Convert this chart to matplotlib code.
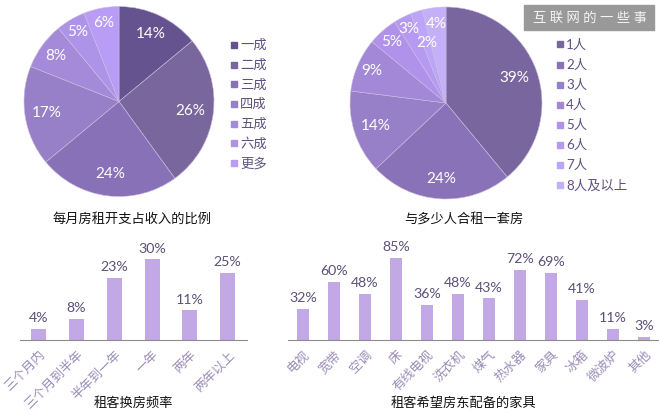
#!/usr/bin/env python3
import numpy as np
import matplotlib
matplotlib.use('Agg')
import matplotlib.pyplot as plt

plt.rcParams['font.family'] = ['Lato', 'Noto Sans CJK SC', 'DejaVu Sans']

W, H = 659, 415

INCOME_LABELS = ['一成', '二成', '三成', '四成', '五成', '六成', '更多']
INCOME_VALUES = [14, 26, 24, 17, 8, 5, 6]
INCOME_COLORS = ['#655390', '#78669c', '#8871b6', '#9880c8', '#a48ad8', '#ae94e8', '#b89cf5']
INCOME_LABEL_R = [0.79, 0.76, 0.77, 0.77, 0.82, 0.85, 0.84]

SHARE_LABELS = ['1人', '2人', '3人', '4人', '5人', '6人', '7人', '8人及以上']
SHARE_VALUES = [39, 24, 14, 9, 5, 3, 2, 4]
SHARE_COLORS = ['#7a669e', '#8a72b8', '#9880c8', '#a488d8', '#b092ea', '#b69af2', '#bca4f8', '#c4b0f8']
SHARE_LABEL_R = [0.76, 0.79, 0.77, 0.84, 0.85, 0.86, 0.66, 0.83]

FREQ_LABELS = ['三个月内', '三个月到半年', '半年到一年', '一年', '两年', '两年以上']
FREQ_VALUES = [4, 8, 23, 30, 11, 25]

FURN_LABELS = ['电视', '宽带', '空调', '床', '有线电视', '洗衣机', '煤气', '热水器', '家具', '冰箱', '微波炉', '其他']
FURN_VALUES = [32, 60, 48, 85, 36, 48, 43, 72, 69, 41, 11, 3]

BAR_COLOR = '#c3a8e6'
LEGEND_TEXT = '#5f5080'
VALUE_TEXT = '#5c5078'
TICK_TEXT = '#9a8cb8'


def ax_px(fig, x0, y0, x1, y1):
    # pixel box, y measured from the top like in the picture
    return fig.add_axes([x0 / W, 1 - y1 / H, (x1 - x0) / W, (y1 - y0) / H])


def draw_pie(fig, cx, cy, r, values, colors, labels, label_r, legend_x, legend_y, legend_step):
    ax = ax_px(fig, cx - r, cy - r, cx + r, cy + r)
    wedges, _ = ax.pie(values, colors=colors, startangle=90, counterclock=False, radius=1,
                       wedgeprops={'edgecolor': '#c9bce0', 'linewidth': 0.4})
    ax.set_xlim(-1, 1)
    ax.set_ylim(-1, 1)
    for wedge, val, dist in zip(wedges, values, label_r):
        ang = np.deg2rad((wedge.theta1 + wedge.theta2) / 2)
        ax.text(dist * np.cos(ang), dist * np.sin(ang), f'{val}%', color='white',
                fontsize=11, ha='center', va='center', clip_on=False)
    for i, (lab, col) in enumerate(zip(labels, colors)):
        y = legend_y + i * legend_step
        fig.patches.append(plt.Rectangle((legend_x / W, 1 - (y + 3) / H), 6 / W, 6 / H,
                                         transform=fig.transFigure, color=col))
        fig.text((legend_x + 9) / W, 1 - y / H, lab, color=LEGEND_TEXT, fontsize=9.6,
                 ha='left', va='center')


def draw_bars(fig, box, xlim, ylim, width, values, labels, fontsize):
    ax = ax_px(fig, *box)
    x = np.arange(len(values))
    bars = ax.bar(x, values, width=width, color=BAR_COLOR)
    ax.set_xlim(*xlim)
    ax.set_ylim(*ylim)
    for bar, val in zip(bars, values):
        ax.annotate(f'{val}%', (bar.get_x() + bar.get_width() / 2, val), xytext=(0, 3.5),
                    textcoords='offset points', ha='center', va='bottom', color=VALUE_TEXT,
                    fontsize=fontsize, annotation_clip=False)
    for side in ['top', 'left', 'right']:
        ax.spines[side].set_visible(False)
    ax.spines['bottom'].set_color('#8c8c8c')
    ax.spines['bottom'].set_linewidth(0.8)
    ax.patch.set_alpha(0)
    ax.set_yticks([])
    ax.set_xticks(x)
    ax.set_xticklabels(labels, rotation=45, ha='right', rotation_mode='anchor',
                       color=TICK_TEXT, fontsize=9.2)
    ax.tick_params(axis='x', length=0, pad=6)


def main():
    fig = plt.figure(figsize=(W / 100, H / 100), dpi=100, facecolor='white')

    draw_pie(fig, 119, 101.5, 95, INCOME_VALUES, INCOME_COLORS, INCOME_LABELS,
             INCOME_LABEL_R, 231, 45, 19.7)
    draw_pie(fig, 446, 103, 96, SHARE_VALUES, SHARE_COLORS, SHARE_LABELS,
             SHARE_LABEL_R, 557, 44.5, 20.1)

    draw_bars(fig, (20, 250, 247, 340), (-0.495, 5.51), (0, 33.5), 0.4,
              FREQ_VALUES, FREQ_LABELS, 10.2)
    draw_bars(fig, (288, 250, 659, 340), (-0.484, 11.48), (0, 93), 0.39,
              FURN_VALUES, FURN_LABELS, 10.2)

    title_y = [218, 218, 403, 403]
    title_x = [132, 464, 133, 464]
    titles = ['每月房租开支占收入的比例', '与多少人合租一套房', '租客换房频率', '租客希望房东配备的家具']
    for x, y, t in zip(title_x, title_y, titles):
        fig.text(x / W, 1 - y / H, t, color='#111111', fontsize=9.5, ha='center', va='center')

    fig.patches.append(plt.Rectangle((524 / W, 1 - 30 / H), 130 / W, 25 / H,
                                     transform=fig.transFigure, color='#999999'))
    fig.text(590 / W, 1 - 18 / H, '互 联 网 的 一 些 事', color='#f4f4f4', fontsize=9.6,
             ha='center', va='center')

    fig.savefig('out.png', dpi=100, facecolor='white')


if __name__ == '__main__':
    main()
